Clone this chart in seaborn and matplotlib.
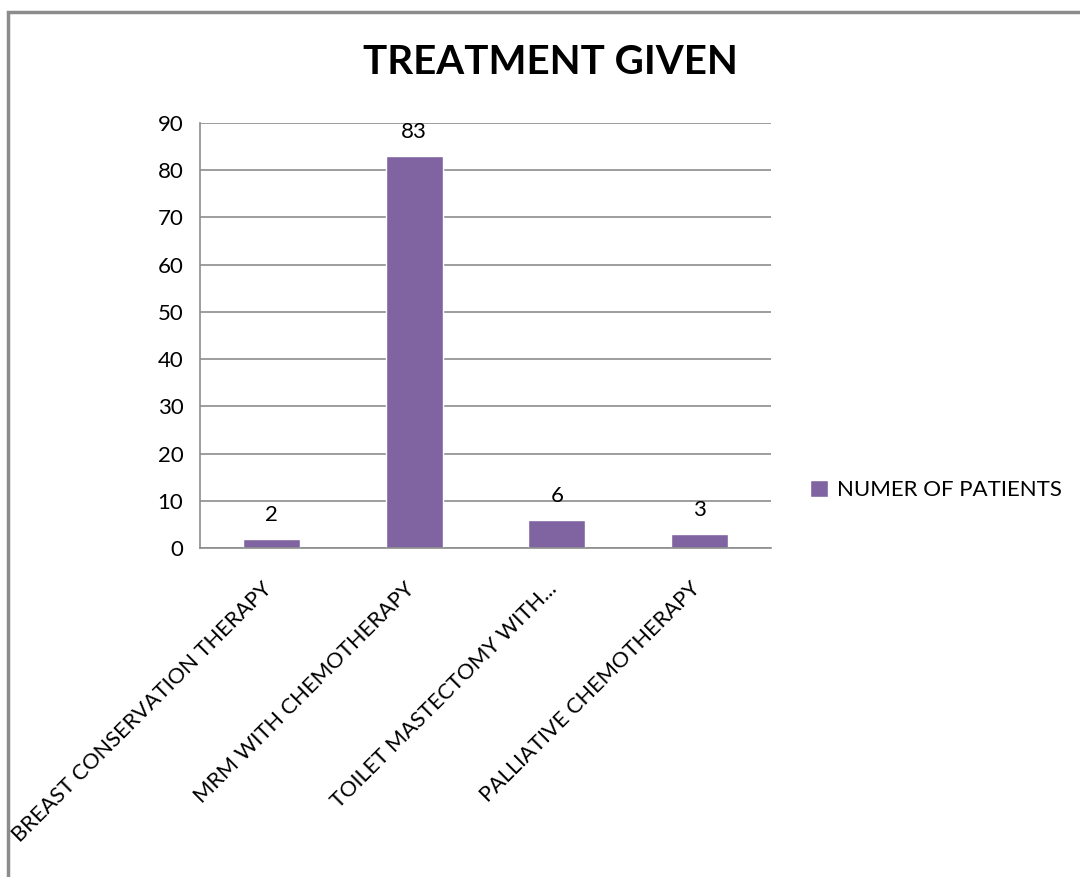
import numpy as np
import pandas as pd
import matplotlib
matplotlib.use('Agg')
import matplotlib.pyplot as plt
import matplotlib.transforms as mtransforms
import seaborn as sns
from matplotlib.patches import Rectangle

treatments = ['BREAST CONSERVATION THERAPY', 'MRM WITH CHEMOTHERAPY',
              'TOILET MASTECTOMY WITH...', 'PALLIATIVE CHEMOTHERAPY']
patients = [2, 83, 6, 3]
series_name = 'NUMER OF PATIENTS'

df = pd.DataFrame({'Treatment': treatments, 'Patients': patients})

sns.set_style('white')
plt.rcParams['font.family'] = ['Lato', 'DejaVu Sans']
plt.rcParams['text.color'] = 'black'
plt.rcParams['xtick.color'] = 'black'
plt.rcParams['ytick.color'] = 'black'

fig = plt.figure(figsize=(10.8, 8.77), dpi=100)
ax = fig.add_axes([200/1080, 1-548/877, 571/1080, 425/877])

sns.barplot(data=df, x='Treatment', y='Patients', color='#8064A2',
            width=0.4, saturation=1, ax=ax, label=series_name)
ax.set_xlim(-0.5, 3.5)
ax.set_ylim(0, 90)
ax.set_yticks(np.arange(0, 91, 10))
ax.grid(axis='y', color='#8c8c8c', linewidth=1.2)
ax.set_axisbelow(True)
for s in ['top', 'right']:
    ax.spines[s].set_visible(False)
for s in ['left', 'bottom']:
    ax.spines[s].set_color('#8c8c8c')
    ax.spines[s].set_linewidth(1.2)

ax.set_xlabel('')
ax.set_ylabel('')
ax.tick_params(axis='y', length=5, color='#8c8c8c', labelcolor='black',
               width=1.2, labelsize=16, pad=7)
ax.tick_params(axis='x', which='major', length=0, labelcolor='black',
               labelsize=15.7, pad=22)
ax.set_xticks(np.arange(-0.5, 4, 1), minor=True)
ax.tick_params(axis='x', which='minor', length=7, color='#8c8c8c', width=1.2)
shift = mtransforms.ScaledTranslation(-10/100, 0, fig.dpi_scale_trans)
for lab in ax.get_xticklabels():
    lab.set_rotation(45)
    lab.set_ha('right')
    lab.set_rotation_mode('anchor')
    lab.set_transform(lab.get_transform() + shift)

ax.bar_label(ax.containers[0], fontsize=16, padding=10, color='black')

fig.text(550/1080, 1-62/877, 'TREATMENT GIVEN', ha='center', va='center',
         fontsize=29, fontweight='bold', color='black')

leg = ax.legend(loc='center left', bbox_to_anchor=(790/1080, 1-490/877),
                bbox_transform=fig.transFigure, frameon=False, fontsize=16,
                handlelength=0.8, handleheight=0.8, handletextpad=0.4)

fig.patches.append(Rectangle((8/1080, -0.1), 1.2, 1-12/877+0.1,
                             transform=fig.transFigure, fill=False,
                             edgecolor='#8c8c8c', linewidth=2.5))

fig.savefig('out.png', dpi=100)
